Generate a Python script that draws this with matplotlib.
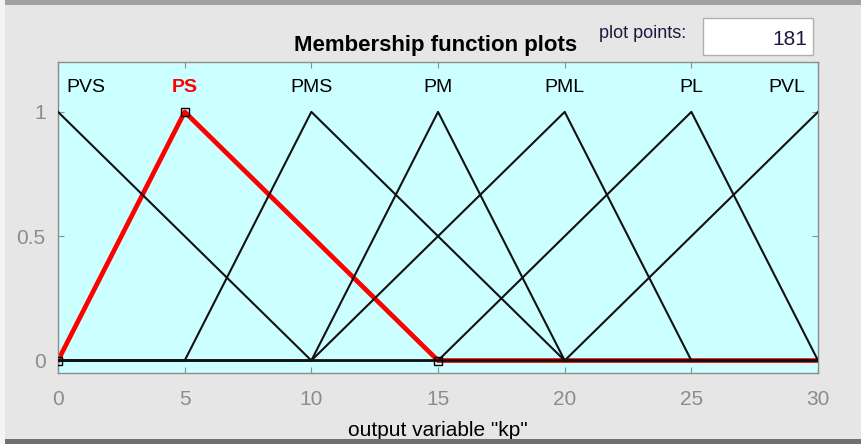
#membership function plot of output variable kp
import numpy as np
import matplotlib.pyplot as plt
from matplotlib.patches import Rectangle

plt.rcParams['font.family'] = ['Liberation Sans', 'DejaVu Sans']

#triangle params [a b c] of each mf
mfNames = ['PVS', 'PS', 'PMS', 'PM', 'PML', 'PL', 'PVL']
mfParams = [[0, 0, 10],
            [0, 5, 15],
            [5, 10, 20],
            [10, 15, 20],
            [10, 20, 25],
            [15, 25, 30],
            [20, 30, 30]]
selected = 1  #PS is highlighted
xRange = [0, 30]
nPoints = 181
xTicks = [0, 5, 10, 15, 20, 25, 30]
yTicks = [0, 0.5, 1]


def trimf(x, p):
	a, b, c = p
	y = np.zeros_like(x)
	if b > a:
		idx = (x >= a) & (x <= b)
		y[idx] = (x[idx] - a) / (b - a)
	if c > b:
		idx = (x >= b) & (x <= c)
		y[idx] = (c - x[idx]) / (c - b)
	y[x == b] = 1
	return y


x = np.linspace(xRange[0], xRange[1], nPoints)

fig = plt.figure(figsize=(8.62, 4.44), dpi=100)
fig.patch.set_facecolor('#e6e6e6')
ax = fig.add_axes([0.0673, 0.16, 0.8817, 0.70])
ax.set_facecolor('#ccffff')

gray = '#8c8c8c'
for i, p in enumerate(mfParams):
	y = trimf(x, p)
	if i == selected:
		ax.plot(x, y, color='red', lw=3.4, zorder=2)
		ax.plot(p, [trimf(np.array([float(v)]), p)[0] for v in p], 's',
			ms=6, mfc='none', mec='black', mew=1, zorder=4)
		col = 'red'
		weight = 'bold'
	else:
		ax.plot(x, y, color='#111111', lw=1.5, zorder=3)
		col = 'black'
		weight = 'normal'
	#label above the peak, kept inside the axes
	ha = 'center'
	xl = p[1]
	off = 0
	if p[1] == xRange[0]:
		ha = 'left'
		off = 6
	elif p[1] == xRange[1]:
		ha = 'right'
		off = -9
	ax.annotate(mfNames[i], (xl, 1.1), xytext=(off, 0), textcoords='offset points',
		ha=ha, va='center', fontsize=14, color=col, fontweight=weight)

ax.set_xlim(xRange)
ax.set_ylim(-0.05, 1.2)
ax.set_xticks(xTicks)
ax.set_yticks(yTicks)
ax.set_yticklabels(['0', '0.5', '1'])
ax.tick_params(axis='x', pad=12)
ax.tick_params(axis='y', pad=9)
ax.tick_params(direction='in', top=True, right=True, length=4, color=gray,
	labelcolor=gray, labelsize=15)
for s in ax.spines.values():
	s.set_color(gray)
	s.set_linewidth(1)
ax.set_xlabel('output variable "kp"', fontsize=15, labelpad=9)

#title and plot points box
fig.text(0.505, 0.898, 'Membership function plots', ha='center', va='center',
	fontsize=16, fontweight='bold')
fig.text(0.746, 0.925, 'plot points:', ha='center', va='center', fontsize=13,
	color='#1a1a40')
fig.patches.append(Rectangle((0.816, 0.876), 0.127, 0.083, transform=fig.transFigure,
	facecolor='white', edgecolor='#b0b0b0', lw=1))
fig.text(0.936, 0.912, str(nPoints), ha='right', va='center', fontsize=15,
	color='#1a1a40')

#window frame lines
fig.patches.append(Rectangle((0, 0.988), 1, 0.012, transform=fig.transFigure,
	facecolor='#a0a0a0', edgecolor='none'))
fig.patches.append(Rectangle((0, 0), 1, 0.012, transform=fig.transFigure,
	facecolor='#707070', edgecolor='none'))
fig.patches.append(Rectangle((0, 0), 0.006, 1, transform=fig.transFigure,
	facecolor='#f4f4f4', edgecolor='none'))

plt.savefig('out.png', dpi=100, facecolor=fig.get_facecolor())
